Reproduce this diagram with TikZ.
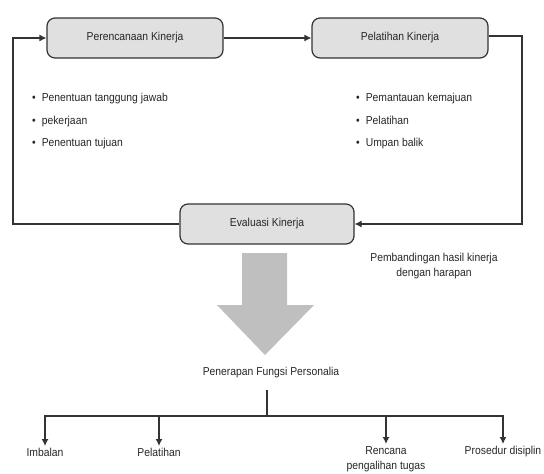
\documentclass[tikz,border=0pt]{standalone}
\usepackage{fontspec}
\setmainfont{Liberation Sans}[FakeStretch=0.9]
\usetikzlibrary{arrows.meta}
\tikzstyle{every node}=[font=\fontsize{11.5}{13}\selectfont,text=black!85]
\tikzstyle{kotak}=[draw=black!80,line width=1.2pt,rounded corners=8pt,fill=black!12,minimum width=176pt,minimum height=40pt]
\tikzstyle{daftar}=[anchor=north west,align=left,inner sep=0pt,font=\fontsize{11.5}{22.5}\selectfont]
\tikzstyle{garis}=[draw=black!80,line width=1.2pt]
\tikzstyle{panah}=[garis,-{Latex[length=7pt,width=7pt]}]
\tikzstyle{ujung}=[anchor=north,align=center,inner sep=2pt,font=\fontsize{11.5}{15.5}\selectfont]

\begin{document}
\begin{tikzpicture}[x=1pt,y=-1pt]
	\useasboundingbox (0,0) rectangle (544,474);
	\node[kotak] (rencana) at (135,38) {Perencanaan Kinerja};
	\node[kotak] (latih) at (400,38) {Pelatihan Kinerja};
	\node[kotak,minimum width=174pt] (evaluasi) at (267,224) {Evaluasi Kinerja};
	\coordinate (kiri) at (13,224);
	\coordinate (kanan) at (522,36);
	\node[daftar] (tugas) at (32,93) {\textbullet\hspace{6pt}Penentuan tanggung jawab\\
		\textbullet\hspace{6pt}pekerjaan\\
		\textbullet\hspace{6pt}Penentuan tujuan};
	\node[daftar] (pantau) at (356,93) {\textbullet\hspace{6pt}Pemantauan kemajuan\\
		\textbullet\hspace{6pt}Pelatihan\\
		\textbullet\hspace{6pt}Umpan balik};
	\node[align=center,font=\fontsize{11.5}{15}\selectfont] (banding) at (434,266) {Pembandingan hasil kinerja\\dengan harapan};
	\draw[panah] (rencana) -- (latih);
	\draw[panah] (latih.east |- kanan) -- (kanan) |- (evaluasi.east);
	\draw[panah] (evaluasi.west) -- (kiri) |- (rencana.west);
	% panah besar
	\fill[black!25] (242,253) -- (287,253) -- (287,305) -- (314,305) -- (265,355)
		-- (217,305) -- (242,305) -- cycle;
	\node (fungsi) at (271,373) {Penerapan Fungsi Personalia};
	\coordinate (cabang) at (267,416);
	\node[ujung] (imbalan) at (45,446) {Imbalan};
	\node[ujung] (pelatihan) at (159,446) {Pelatihan};
	\node[ujung] (pindah) at (386,444) {Rencana\\pengalihan tugas};
	\node[ujung] (disiplin) at (503,444) {Prosedur disiplin};
	\draw[garis] ([yshift=-8pt]fungsi.south -| cabang) -- (cabang);
	\foreach \n in {imbalan,pelatihan,pindah,disiplin}
		\draw[panah] (cabang) -| (\n.north);
\end{tikzpicture}
\end{document}
